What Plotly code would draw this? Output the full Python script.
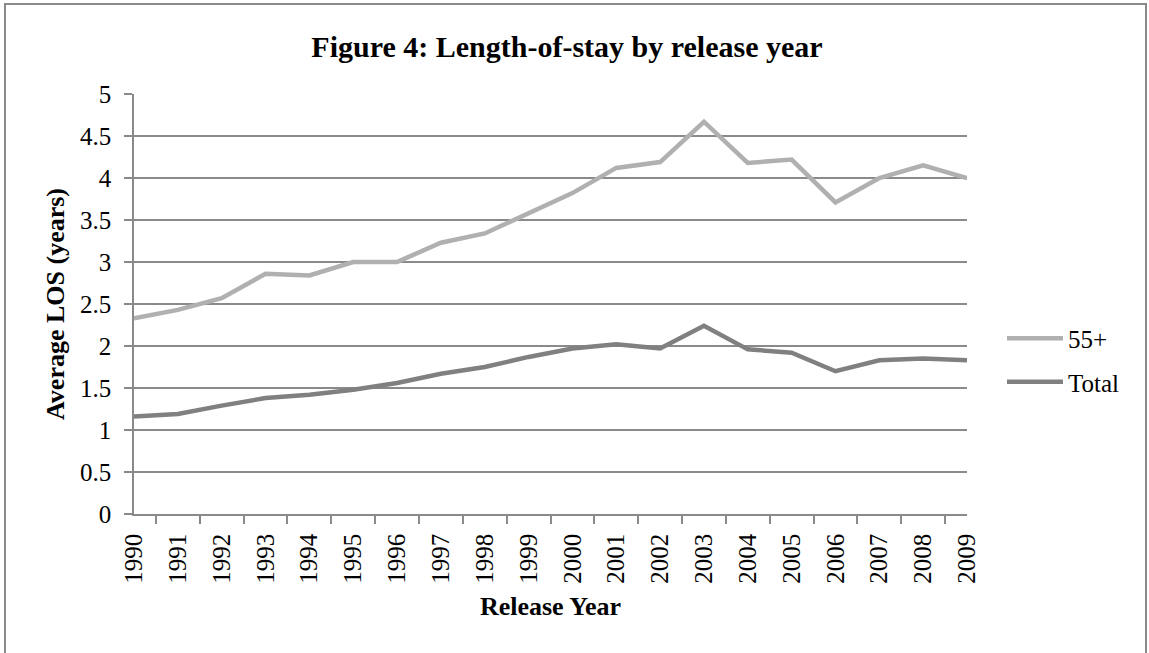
import plotly.graph_objects as go

# Release years and average length of stay (years)
years = [str(y) for y in range(1990, 2010)]
los_55_plus = [2.33, 2.43, 2.57, 2.86, 2.84, 3.00, 3.00, 3.23, 3.34, 3.58,
               3.82, 4.12, 4.19, 4.67, 4.18, 4.22, 3.71, 4.00, 4.15, 4.00]
los_total = [1.16, 1.19, 1.29, 1.38, 1.42, 1.48, 1.56, 1.67, 1.75, 1.87,
             1.97, 2.02, 1.97, 2.24, 1.96, 1.92, 1.70, 1.83, 1.85, 1.83]

SERIF = "Liberation Serif"
GRID = "#8a8a8a"

W, H = 1149, 653
L, R, T, B = 134, 182, 94, 139
pw, ph = W - L - R, H - T - B


def px_to_paper_x(px):
    return (px - L) / pw


def px_to_paper_y(py):
    return (H - B - py) / ph


fig = go.Figure()
fig.add_trace(go.Scatter(
    x=years, y=los_55_plus, name="55+", mode="lines",
    line=dict(color="#b0b0b0", width=4.5), legendgroup="a",
))
fig.add_trace(go.Scatter(
    x=years, y=los_total, name="Total", mode="lines",
    line=dict(color="#808080", width=4.5), legendgroup="b",
))

fig.update_layout(
    width=W, height=H,
    margin=dict(l=L, r=R, t=T, b=B, autoexpand=False),
    paper_bgcolor="white", plot_bgcolor="white",
    font=dict(family=SERIF, size=24, color="black"),
    title=dict(
        text="<b>Figure 4: Length-of-stay by release year</b>",
        font=dict(family=SERIF, size=30, color="black"),
        x=567 / W, xref="container", xanchor="center",
        y=1 - 46 / H, yref="container", yanchor="middle",
    ),
    showlegend=True,
    legend=dict(
        x=px_to_paper_x(1002), xanchor="left",
        y=px_to_paper_y(360), yanchor="middle",
        font=dict(family=SERIF, size=25, color="black"),
        bgcolor="rgba(0,0,0,0)", borderwidth=0,
        traceorder="grouped", tracegroupgap=8,
        itemwidth=56,
    ),
    xaxis=dict(
        type="category",
        showgrid=False,
        showline=True, linecolor=GRID, linewidth=1.5,
        ticks="outside", ticklen=8, tickcolor=GRID, tickwidth=1.5,
        tickson="boundaries",
        tickangle=-90,
        ticklabelstandoff=8,
        tickfont=dict(family=SERIF, size=25, color="black"),
        title=dict(text="<b>Release Year</b>",
                   font=dict(family=SERIF, size=26, color="black"),
                   standoff=14),
        automargin=False,
    ),
    yaxis=dict(
        range=[0, 5], dtick=0.5, tick0=0,
        showgrid=True, gridcolor=GRID, gridwidth=1.5,
        zeroline=False,
        showline=True, linecolor=GRID, linewidth=1.5,
        ticks="outside", ticklen=8, tickcolor=GRID, tickwidth=1.5,
        ticklabelstandoff=8,
        tickfont=dict(family=SERIF, size=25, color="black"),
        title=dict(text="<b>Average LOS (years)</b>",
                   font=dict(family=SERIF, size=26, color="black"),
                   standoff=8),
        automargin=False,
    ),
    shapes=[dict(
        type="rect", xref="paper", yref="paper",
        x0=px_to_paper_x(5), x1=px_to_paper_x(1146),
        y0=px_to_paper_y(H + 20), y1=px_to_paper_y(4),
        line=dict(color=GRID, width=2), fillcolor="rgba(0,0,0,0)",
        layer="below",
    )],
)

fig.write_html("out.html")
